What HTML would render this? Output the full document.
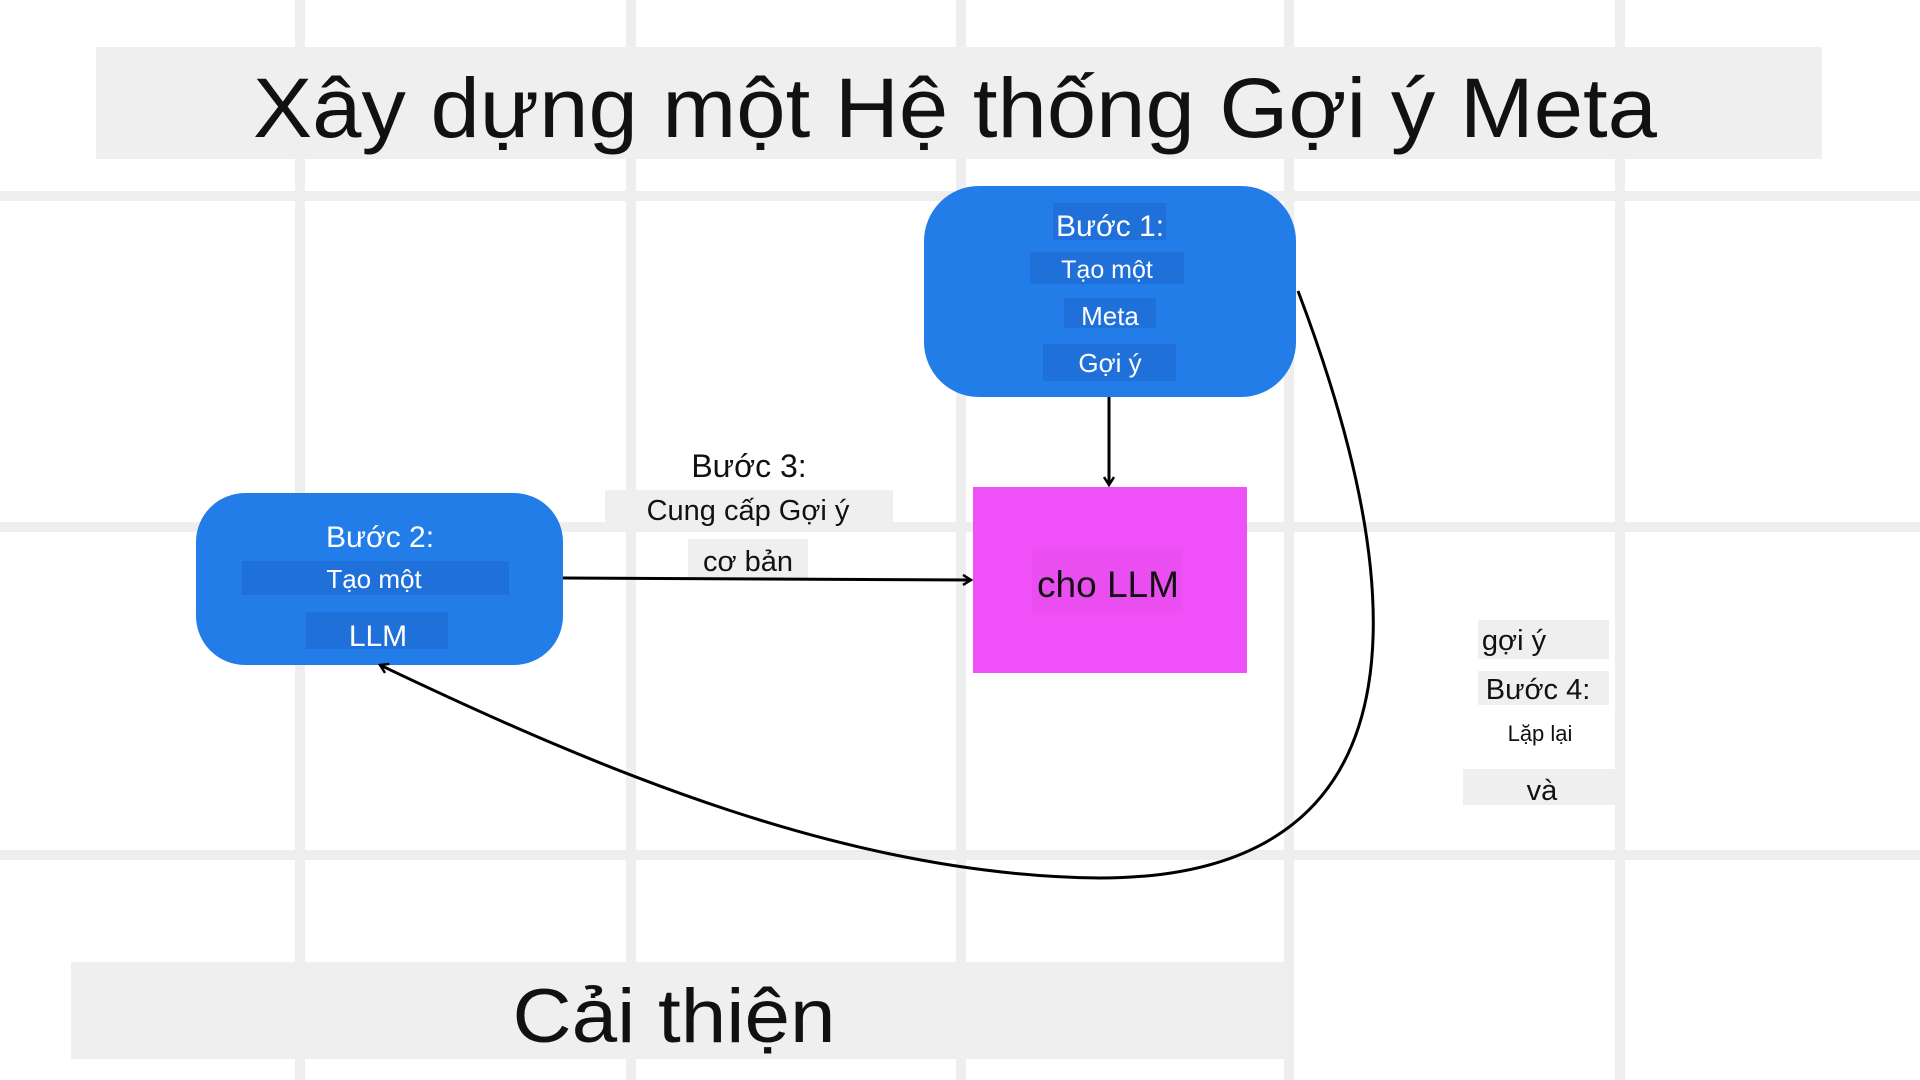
<!DOCTYPE html>
<html><head><meta charset="utf-8"><style>
html,body{margin:0;padding:0;background:#fff;width:1920px;height:1080px;overflow:hidden}
svg text{font-family:"Liberation Sans","Noto Sans CJK SC",sans-serif}
</style></head><body>
<svg width="1920" height="1080" viewBox="0 0 1920 1080" xmlns="http://www.w3.org/2000/svg">
<defs><marker id="ah" markerWidth="12" markerHeight="12" refX="9" refY="6" orient="auto" markerUnits="userSpaceOnUse"><path d="M1,1 L9,6 L1,11" fill="none" stroke="#000" stroke-width="2.5"/></marker></defs>
<g fill="#eeeeee">
<rect x="295" y="0" width="10" height="1080"/><rect x="626" y="0" width="10" height="1080"/><rect x="956" y="0" width="10" height="1080"/><rect x="1284" y="0" width="10" height="1080"/><rect x="1615" y="0" width="10" height="1080"/>
<rect x="0" y="191" width="1920" height="10"/><rect x="0" y="522" width="1920" height="10"/><rect x="0" y="850" width="1920" height="10"/>
</g>
<rect x="96" y="47" width="1726" height="112" fill="#efefef"/>
<text x="955" y="137" font-size="84" text-anchor="middle" fill="#111" textLength="1404" lengthAdjust="spacingAndGlyphs">Xây dựng một Hệ thống Gợi ý Meta</text>
<rect x="71" y="962" width="1218" height="97" fill="#efefef"/>
<text x="674" y="1042" font-size="76" text-anchor="middle" fill="#111" textLength="323" lengthAdjust="spacingAndGlyphs">Cải thiện</text>

<rect x="924" y="186" width="372" height="211" rx="55" fill="#237de8"/>
<g fill="#1f70d8"><rect x="1053" y="203" width="113" height="37"/><rect x="1030" y="252" width="154" height="32"/><rect x="1064" y="298" width="92" height="30"/><rect x="1043" y="344" width="133" height="37"/></g>
<g fill="#fff" text-anchor="middle"><text x="1110" y="236" font-size="30">Bước 1:</text><text x="1107" y="278" font-size="25">Tạo một</text><text x="1110" y="325" font-size="26">Meta</text><text x="1110" y="372" font-size="26">Gợi ý</text></g>

<rect x="196" y="493" width="367" height="172" rx="49" fill="#237de8"/>
<g fill="#1f70d8"><rect x="242" y="561" width="267" height="34"/><rect x="306" y="612" width="142" height="37"/></g>
<g fill="#fff" text-anchor="middle"><text x="380" y="547" font-size="30">Bước 2:</text><text x="374" y="588" font-size="26">Tạo một</text><text x="378" y="646" font-size="30">LLM</text></g>

<rect x="973" y="487" width="274" height="186" fill="#f050f8"/>
<rect x="1032" y="549" width="151" height="63" fill="#ea4ef0"/>
<text x="1108" y="597" font-size="37" text-anchor="middle" fill="#111">cho LLM</text>

<g fill="#efefef"><rect x="605" y="490" width="288" height="39"/><rect x="688" y="539" width="120" height="39"/><rect x="1478" y="620" width="131" height="39"/><rect x="1478" y="671" width="131" height="34"/><rect x="1463" y="769" width="160" height="36"/></g>
<g fill="#111" text-anchor="middle"><text x="749" y="477" font-size="32">Bước 3:</text><text x="748" y="520" font-size="29">Cung cấp Gợi ý</text><text x="748" y="571" font-size="29">cơ bản</text>
<text x="1514" y="650" font-size="29">gợi ý</text><text x="1538" y="699" font-size="29">Bước 4:</text><text x="1540" y="741" font-size="22">Lặp lại</text><text x="1542" y="800" font-size="29">và</text></g>

<g fill="none" stroke="#000" stroke-width="3">
<path d="M1109 397 L1109 485" marker-end="url(#ah)"/>
<path d="M563 578 L971 580" marker-end="url(#ah)"/>
<path d="M1298 291 C1400 560 1450 878 1100 878 C850 876 600 770 380 665" marker-end="url(#ah)"/>
</g>
</svg>
</body></html>
